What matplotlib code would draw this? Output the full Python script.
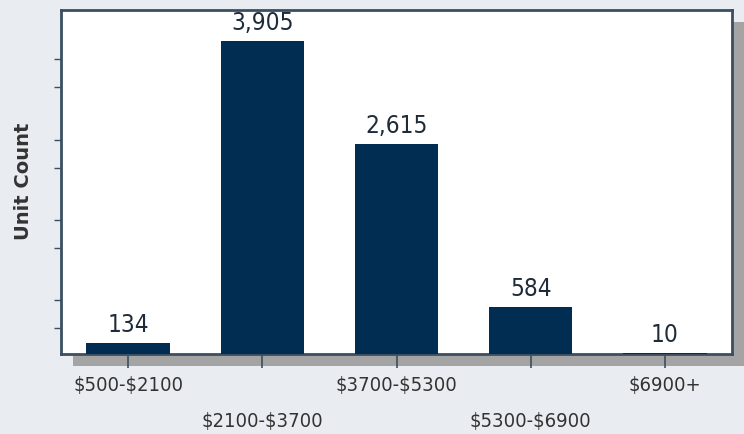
import matplotlib
matplotlib.use("Agg")
import matplotlib.pyplot as plt
import matplotlib.patches as patches

# --- Data ---
price_bands = ["$500-$2100", "$2100-$3700", "$3700-$5300", "$5300-$6900", "$6900+"]
unit_counts = [134, 3905, 2615, 584, 10]
tick_values = [325, 675, 1325, 1675, 2325, 2675, 3325, 3675]

# --- Style ---
BG = "#e9edf1"
BAR = "#022d52"
FRAME = "#3b4f61"
TEXT = "#1e2b38"
SHADOW = "#a4a4a4"

plt.rcParams["font.family"] = ["DejaVu Sans"]

fig = plt.figure(figsize=(7.44, 4.35), dpi=100, facecolor=BG)
W, H = 744, 435
left, right, top, bottom = 61, 732, 11, 355
ax = fig.add_axes([left / W, 1 - bottom / H, (right - left) / W, (bottom - top) / H])
ax.set_zorder(2)

# drop shadow behind the plot area
off = 12
fig.patches.append(patches.Rectangle(((left + off) / W, 1 - (bottom + off) / H),
                                     (right - left) / W, (bottom - top) / H,
                                     transform=fig.transFigure, facecolor=SHADOW,
                                     edgecolor="none", zorder=-1))

x = range(len(price_bands))
ax.bar(x, unit_counts, width=0.62, color=BAR, zorder=3)
ax.set_xlim(-0.5, len(price_bands) - 0.5)
ax.set_ylim(0, 4290)
ax.set_facecolor("white")

for xi, v in zip(x, unit_counts):
    ax.annotate(f"{v:,}", (xi, v), xytext=(0, 5), textcoords="offset points",
                ha="center", va="bottom", fontsize=17.5, fontstretch="condensed", color=TEXT)

ax.set_yticks(tick_values)
ax.set_yticklabels([])
ax.tick_params(axis="y", length=5, width=1, color=FRAME, direction="out")

ax.set_xticks(list(x))
ax.set_xticklabels([b.replace("$", r"\$") for b in price_bands],
                   fontsize=14.5, fontstretch="condensed", color="#333333")
ax.tick_params(axis="x", length=10, width=1.2, color=FRAME, direction="out")
for i, t in enumerate(ax.xaxis.get_major_ticks()):
    t.set_pad(5 if i % 2 == 0 else 31)

for s in ax.spines.values():
    s.set_color(FRAME)
    s.set_linewidth(2)

fig.text(24 / W, 1 - 181 / H, "Unit Count", rotation=90, ha="center", va="center",
         fontsize=14, fontweight="bold", color="#333333")

fig.savefig("out.png", dpi=100, facecolor=BG)
